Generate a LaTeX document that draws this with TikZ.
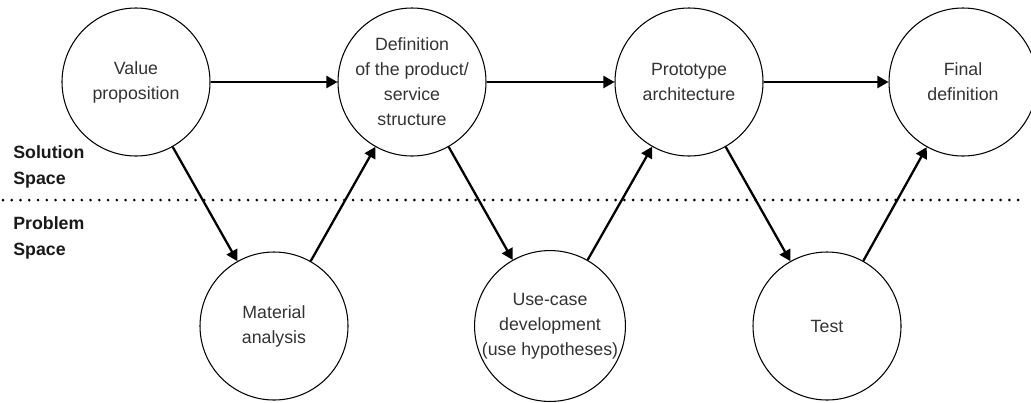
\documentclass[tikz,border=0pt]{standalone}
\usepackage{fontspec}
\setmainfont{Liberation Sans}
\usetikzlibrary{arrows.meta, positioning}

\begin{document}
\begin{tikzpicture}[
        stage/.style={circle, draw=black, line width=0.6pt, minimum size=2.96cm, inner sep=0pt,
                align=center, text=black!80, font=\fontsize{10.1}{14.2}\selectfont},
        flow/.style={line width=1.3pt, -{Triangle[length=0.22cm, width=0.24cm]}},
        space/.style={anchor=west, inner sep=0pt, align=left, text=black!90,
                font=\fontsize{10.1}{14.8}\selectfont\bfseries}]

        \useasboundingbox (0,0) rectangle (20.62,8.04);

        % Top row, solution space
        \node[stage] (value) at (2.72,6.4) {Value\\proposition};
        \node[stage] (structure) at (8.24,6.4) {Definition\\of the product/\\service\\structure};
        \node[stage] (prototype) at (13.78,6.4) {Prototype\\architecture};
        \node[stage] (final) at (19.26,6.4) {Final\\definition};
        % Bottom row, problem space
        \node[stage] (material) at (5.48,1.52) {Material\\analysis};
        \node[stage] (usecase) at (11.0,1.52) {Use-case\\development\\(use hypotheses)};
        \node[stage] (test) at (16.54,1.52) {Test};

        % Divider between the two spaces
        \coordinate (divleft) at (0.06,4.04);
        \coordinate (divright) at (20.5,4.04);
        \draw[line width=1.7pt, line cap=round, dash pattern=on 0pt off 0.175cm] (divleft) -- (divright);

        \node[space] (solution) at (0.26,4.7) {Solution\\Space};
        \node[space] (problem) at (0.26,3.28) {Problem\\Space};

        % Horizontal steps
        \draw[flow] (value) -- (structure);
        \draw[flow] (structure) -- (prototype);
        \draw[flow] (prototype) -- (final);
        % Zig-zag steps
        \draw[flow] (value) -- (material);
        \draw[flow] (material) -- (structure);
        \draw[flow] (structure) -- (usecase);
        \draw[flow] (usecase) -- (prototype);
        \draw[flow] (prototype) -- (test);
        \draw[flow] (test) -- (final);

\end{tikzpicture}
\end{document}
